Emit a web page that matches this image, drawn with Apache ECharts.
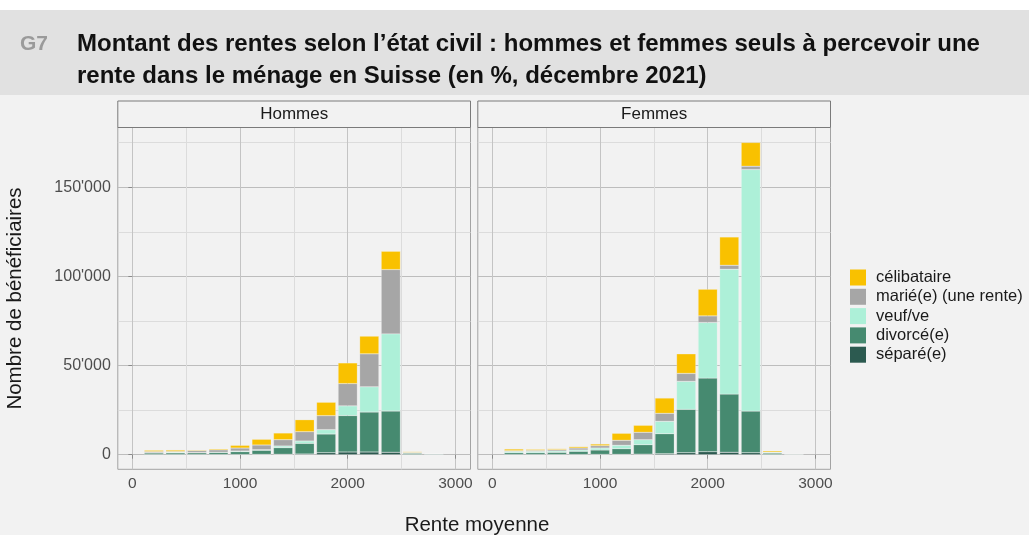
<!DOCTYPE html>
<html>
<head>
<meta charset="utf-8">
<script src="https://cdn.jsdelivr.net/npm/echarts@6/dist/echarts.min.js"></script>
<style>
html,body{margin:0;padding:0;background:#ffffff;}
#chart{width:1029px;height:535px;}
</style>
</head>
<body>
<div id="chart"></div>
<script>
// ---- data ----
const bins = [200, 400, 600, 800, 1000, 1200, 1400, 1600, 1800, 2000, 2200, 2400, 2600, 2800];
const categories = ['célibataire', 'marié(e) (une rente)', 'veuf/ve', 'divorcé(e)', 'séparé(e)'];
const panels = ['Hommes', 'Femmes'];

// Hommes
const hCelibataire = [700, 750, 400, 560, 1490, 3190, 3750, 6720, 7500, 11590, 9910, 10250, 400, 50];
const hMarie       = [600, 400, 1100, 1300, 1680, 2630, 3530, 5210, 7840, 12490, 18480, 36060, 300, 0];
const hVeuf        = [200, 400, 150, 150, 370, 340, 950, 1340, 2460, 5430, 14170, 43290, 150, 100];
const hDivorce     = [860, 920, 950, 1150, 1580, 2260, 3670, 5940, 10470, 20440, 22400, 23130, 750, 400];
const hSepare      = [100, 80, 100, 100, 100, 200, 250, 390, 1120, 1510, 1510, 1340, 80, 0];

// Femmes
const fCelibataire = [930, 560, 560, 750, 930, 3920, 3920, 8570, 10980, 14950, 15850, 13270, 700, 50];
const fMarie       = [370, 560, 750, 1120, 1300, 2800, 4140, 4480, 4480, 3700, 2240, 1850, 100, 0];
const fVeuf        = [750, 750, 750, 750, 1120, 1900, 2800, 6940, 15680, 31190, 70000, 135500, 400, 200];
const fDivorce     = [1000, 1000, 1200, 1750, 2450, 3160, 5300, 11200, 24300, 41270, 32650, 23350, 800, 300];
const fSepare      = [100, 100, 100, 120, 160, 200, 300, 560, 1120, 1680, 1340, 1100, 70, 10];

const xTicks = [0, 1000, 2000, 3000];
const xMinor = [500, 1500, 2500];
const yTicks = [0, 50000, 100000, 150000];
const yMinor = [25000, 75000, 125000, 175000];

// ---- styling ----
const colors = {
  'célibataire': '#F9C100',
  'marié(e) (une rente)': '#A6A6A6',
  'veuf/ve': '#ADF0D8',
  'divorcé(e)': '#468A70',
  'séparé(e)': '#2C5A50'
};
const FONT = '"Liberation Sans", Arial, sans-serif';
const X_MIN = -135, X_MAX = 3140, Y_MIN = -8200, Y_MAX = 183500;
const G_TOP = 127.5, G_H = 341.8, G_W = 352.7;
const G_LEFT = [117.8, 477.8];

function fmt(v){ return String(v).replace(/\B(?=(\d{3})+(?!\d))/g, "'"); }
// value first, bin second (encode maps them), so stacking happens on the value dimension
function pairs(vals){ return bins.map((b, i) => [vals[i], b]); }

const chart = echarts.init(document.getElementById('chart'), null, {renderer: 'canvas'});

const grids = G_LEFT.map(l => ({
  left: l, top: G_TOP, width: G_W, height: G_H,
  show: true, backgroundColor: '#f2f2f2', borderColor: '#a3a3a3', borderWidth: 1,
  outerBoundsMode: 'none', containLabel: false
}));

const xAxes = [];
const yAxes = [];
[0, 1].forEach(gi => {
  xAxes.push({
    type: 'value', gridIndex: gi, min: X_MIN, max: X_MAX,
    axisLine: {show: false},
    axisTick: {show: true, length: 4, lineStyle: {color: '#8a8a8a'}, customValues: xTicks},
    axisLabel: {show: true, customValues: xTicks, formatter: v => String(v), fontFamily: FONT, fontSize: 15.5, color: '#4d4d4d', margin: 6},
    splitLine: {show: true, lineStyle: {color: '#c4c4c4', width: 1}}
  });
  yAxes.push({
    type: 'value', gridIndex: gi, min: Y_MIN, max: Y_MAX,
    axisLine: {show: false},
    axisTick: {show: gi === 0, length: 4, lineStyle: {color: '#8a8a8a'}, customValues: yTicks},
    axisLabel: {show: gi === 0, customValues: yTicks, formatter: v => fmt(v), fontFamily: FONT, fontSize: 16, color: '#4d4d4d', margin: 7},
    splitLine: {show: true, lineStyle: {color: '#bdbdbd', width: 1}}
  });
});
// minor grid axes
[0, 1].forEach(gi => {
  xAxes.push({
    type: 'value', gridIndex: gi, min: X_MIN, max: X_MAX,
    axisLine: {show: false}, axisLabel: {show: false},
    axisTick: {show: false, customValues: xMinor},
    splitLine: {show: true, lineStyle: {color: '#dcdcdc', width: 1}}
  });
  yAxes.push({
    type: 'value', gridIndex: gi, min: Y_MIN, max: Y_MAX,
    axisLine: {show: false}, axisLabel: {show: false},
    axisTick: {show: false, customValues: yMinor},
    splitLine: {show: true, lineStyle: {color: '#dcdcdc', width: 1}}
  });
});

const panelData = [
  [hSepare, hDivorce, hVeuf, hMarie, hCelibataire],
  [fSepare, fDivorce, fVeuf, fMarie, fCelibataire]
];
const stackOrder = ['séparé(e)', 'divorcé(e)', 'veuf/ve', 'marié(e) (une rente)', 'célibataire'];

const series = [];
[0, 1].forEach(gi => {
  stackOrder.forEach((name, k) => {
    series.push({
      type: 'bar', name: name, stack: 'p' + gi,
      xAxisIndex: gi, yAxisIndex: gi,
      barWidth: '89%',
      encode: {x: 1, y: 0},
      data: pairs(panelData[gi][k]),
      itemStyle: {color: colors[name], borderColor: 'rgba(245,245,245,0.6)', borderWidth: 0.4},
      emphasis: {disabled: true},
      z: 3
    });
  });
});

const graphics = [
  {type: 'rect', shape: {x: 0, y: 10, width: 1029, height: 85}, style: {fill: '#e1e1e1'}, z: -10},
  {type: 'rect', shape: {x: 0, y: 95, width: 1029, height: 440}, style: {fill: '#f2f2f2'}, z: -10},
  {type: 'text', x: 20, y: 44, style: {text: 'G7', font: 'bold 21px ' + FONT, fill: '#9a9a9a', textVerticalAlign: 'middle'}},
  {type: 'text', x: 77, y: 44, style: {text: 'Montant des rentes selon l’état civil : hommes et femmes seuls à percevoir une', font: 'bold 24px ' + FONT, fill: '#111111', textVerticalAlign: 'middle'}},
  {type: 'text', x: 77, y: 76, style: {text: 'rente dans le ménage en Suisse (en %, décembre 2021)', font: 'bold 24px ' + FONT, fill: '#111111', textVerticalAlign: 'middle'}},
  {type: 'text', x: 15, y: 298.5, rotation: Math.PI / 2, style: {text: 'Nombre de bénéficiaires', font: '20.5px ' + FONT, fill: '#1a1a1a', textAlign: 'center', textVerticalAlign: 'middle'}},
  {type: 'text', x: 477, y: 525, style: {text: 'Rente moyenne', font: '20.5px ' + FONT, fill: '#1a1a1a', textAlign: 'center', textVerticalAlign: 'middle'}}
];
G_LEFT.forEach((l, i) => {
  graphics.push({type: 'rect', shape: {x: l, y: 101, width: G_W, height: 26.5}, style: {fill: '#f2f2f2', stroke: '#7a7a7a', lineWidth: 1}, z: 5});
  graphics.push({type: 'text', x: l + G_W / 2, y: 114.5, style: {text: panels[i], font: '17px ' + FONT, fill: '#1a1a1a', textAlign: 'center', textVerticalAlign: 'middle'}, z: 6});
});

chart.setOption({
  animation: false,
  backgroundColor: 'transparent',
  grid: grids,
  xAxis: xAxes,
  yAxis: yAxes,
  legend: {
    orient: 'vertical', left: 850, top: 269, padding: 0,
    data: categories,
    icon: 'rect', itemWidth: 16, itemHeight: 16, itemGap: 2.3,
    itemStyle: {borderWidth: 0},
    textStyle: {fontFamily: FONT, fontSize: 16.5, color: '#1a1a1a', padding: [0, 0, 0, 5], lineHeight: 16},
    selectedMode: false
  },
  graphic: graphics,
  series: series
});
</script>
</body>
</html>
